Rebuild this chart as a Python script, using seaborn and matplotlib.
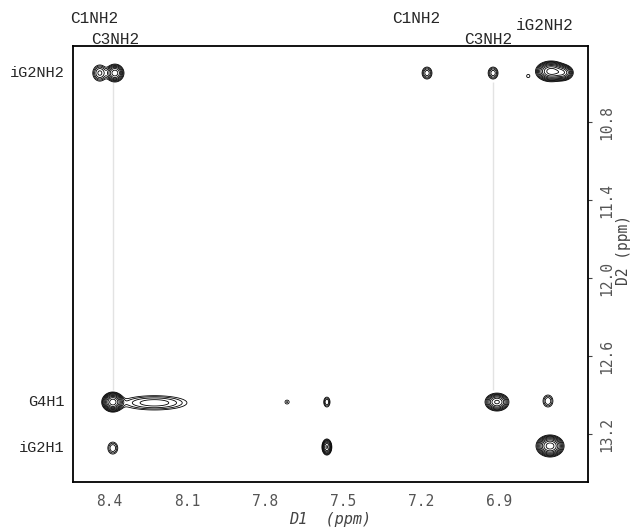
import numpy as np
import matplotlib
matplotlib.use("Agg")
import matplotlib.pyplot as plt
import matplotlib.transforms as mtransforms
import seaborn as sns

# pics de corrélation : position D1, position D2 (ppm), demi-largeurs (ppm), intensité
peak_d1 = [8.435, 8.377, 7.177, 6.923, 6.700, 6.655, 6.788,
           8.385, 8.225, 7.715, 7.562, 6.908, 6.712,
           8.385, 7.562, 6.704]
peak_d2 = [10.423, 10.423, 10.423, 10.423, 10.410, 10.420, 10.446,
           12.954, 12.960, 12.954, 12.954, 12.954, 12.946,
           13.308, 13.300, 13.292]
peak_hw1 = [0.027, 0.035, 0.019, 0.019, 0.060, 0.040, 0.006,
            0.042, 0.125, 0.008, 0.012, 0.046, 0.019,
            0.019, 0.019, 0.054]
peak_hw2 = [0.062, 0.069, 0.046, 0.046, 0.080, 0.060, 0.012,
            0.077, 0.055, 0.015, 0.038, 0.069, 0.046,
            0.046, 0.062, 0.085]
peak_height = [5, 12, 4, 4, 25, 12, 1.3,
               25, 4, 1.5, 3, 15, 3,
               3, 10, 25]

# attributions
row_labels = ["iG2NH2", "G4H1", "iG2H1"]
row_ppm = [10.423, 12.954, 13.308]
col_labels = ["C1NH2", "C3NH2", "C1NH2", "C3NH2", "iG2NH2"]
col_ppm = [8.458, 8.377, 7.219, 6.942, 6.723]
col_level = [2, 0, 2, 0, 1]

# traces en pointillés (D1) entre deux valeurs de D2
link_d1 = [8.385, 6.923]
link_d2 = [10.49, 12.86]

d1_ticks = [8.4, 8.1, 7.8, 7.5, 7.2, 6.9]
d2_ticks = [10.8, 11.4, 12.0, 12.6, 13.2]

sns.set_style("white")
plt.rcParams["font.family"] = ["DejaVu Sans"]

fig = plt.figure(figsize=(6.31, 5.27), dpi=100)
ax = fig.add_axes([0.1157, 0.0854, 0.8162, 0.8273])

# carte 2D construite à partir des pics
gx = np.linspace(6.5, 8.6, 900)
gy = np.linspace(10.1, 13.7, 800)
X, Y = np.meshgrid(gx, gy)
Z = np.zeros_like(X)
base = 1.0
for x0, y0, w1, w2, a in zip(peak_d1, peak_d2, peak_hw1, peak_hw2, peak_height):
    f = np.sqrt(2 * np.log(a / base))
    s1, s2 = w1 / f, w2 / f
    Z += a * np.exp(-((X - x0) ** 2 / (2 * s1 ** 2) + (Y - y0) ** 2 / (2 * s2 ** 2)))

levels = base * 1.45 ** np.arange(0, 10)
ax.contour(X, Y, Z, levels=levels, colors="black", linewidths=0.6)

for x in link_d1:
    sns.lineplot(x=[x, x], y=link_d2, ax=ax, color="#777777",
                 linestyle=(0, (1, 3)), linewidth=1.0, sort=False)

ax.set_xlim(8.538, 6.558)
ax.set_ylim(13.569, 10.215)

ax.set_xticks(d1_ticks)
ax.set_xticklabels([f"{t:.1f}" for t in d1_ticks])
ax.set_yticks(d2_ticks)
ax.set_yticklabels([f"{t:.1f}" for t in d2_ticks], rotation=90, va="center")
ax.yaxis.tick_right()
ax.yaxis.set_label_position("right")
ax.tick_params(axis="both", direction="out", length=3, width=0.8, color="#444444",
               labelsize=10.5, labelcolor="#555555")
ax.tick_params(axis="x", pad=6)
ax.tick_params(axis="y", pad=5)
for lab in ax.get_xticklabels() + ax.get_yticklabels():
    lab.set_family("DejaVu Sans Mono")

ax.set_xlabel("D1  (ppm)", fontsize=11, color="#444444", style="italic",
              family="DejaVu Sans Mono", labelpad=2)
ax.set_ylabel("D2 (ppm)", fontsize=10.5, color="#444444", rotation=90,
              family="DejaVu Sans Mono", va="center", ha="center")
ax.yaxis.set_label_coords(1.068, 0.532)

for sp in ax.spines.values():
    sp.set_color("black")
    sp.set_linewidth(1.3)

# étiquettes des lignes (à gauche)
trans_y = mtransforms.blended_transform_factory(ax.transAxes, ax.transData)
for lab, y in zip(row_labels, row_ppm):
    ax.text(-0.016, y, lab, transform=trans_y, ha="right", va="center",
            family="Liberation Mono", fontsize=11, clip_on=False)

# étiquettes des colonnes (en haut)
trans_x = mtransforms.blended_transform_factory(ax.transData, ax.transAxes)
offsets = [1.014, 1.046, 1.064]
for lab, x, lev in zip(col_labels, col_ppm, col_level):
    ax.text(x, offsets[lev], lab, transform=trans_x, ha="center", va="center",
            family="Liberation Mono", fontsize=11.5, clip_on=False)

fig.savefig("out.png", dpi=100)
